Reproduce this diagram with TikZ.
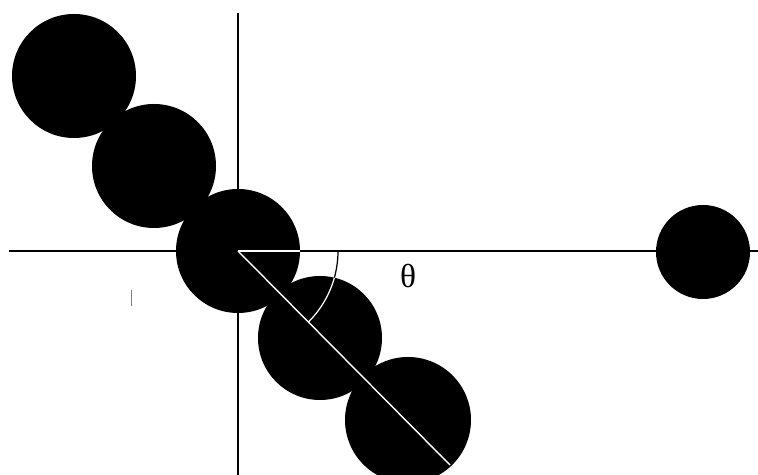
\documentclass[tikz,border=0pt]{standalone}
\usepackage{fontspec}
\setmainfont{Liberation Serif}
\begin{document}
\begin{tikzpicture}[x=0.02cm,y=-0.02cm]
  \useasboundingbox (0,0) rectangle (758,475);
  \coordinate (o) at (238,251);
  \coordinate (ball1) at (74,76);
  \coordinate (ball2) at (154,166);
  \coordinate (ball3) at (238,251);
  \coordinate (ball4) at (320,338);
  \coordinate (ball5) at (408,420);
  \coordinate (ballR) at (703,252);
  \coordinate (xl) at (9,251);
  \coordinate (xr) at (758,251);
  \coordinate (yt) at (238,13);
  \coordinate (yb) at (238,475);
  \coordinate (tip) at (450,465);
  \draw[line width=1.1pt] (xl) -- (xr);
  \draw[line width=1.1pt] (yt) -- (yb);
  \draw[line width=0.7pt] (338,251) arc (0:45:100);
  \draw[thin,color=gray] (131,290) -- (131,306);
  \fill[black] (ball1) circle (62);
  \fill[black] (ball2) circle (62);
  \fill[black] (ball3) circle (62);
  \fill[black] (ball4) circle (62);
  \fill[black] (ball5) circle (63);
  \fill[black] (ballR) circle (47);
  \begin{scope}
    \clip (ball3) circle (62) (ball4) circle (62) (ball5) circle (63);
    \draw[line width=0.8pt,color=white] (o) -- (340,251);
    \draw[line width=0.8pt,color=white] (o) -- (tip);
    \draw[line width=0.7pt,color=white] (338,251) arc (0:45:100);
  \end{scope}
  \node (theta) at (408,276) {\fontsize{19}{21}\selectfont θ};
\end{tikzpicture}
\end{document}
